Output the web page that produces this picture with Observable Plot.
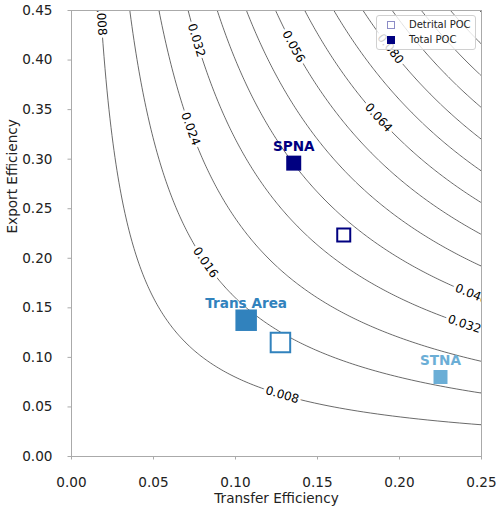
<!DOCTYPE html>
<html>
<head>
<meta charset="utf-8">
<script src="https://cdn.jsdelivr.net/npm/d3@7"></script>
<script src="https://cdn.jsdelivr.net/npm/@observablehq/plot@0.6"></script>
<style>
  html, body { margin: 0; padding: 0; background: #fff; }
  #wrap { position: relative; width: 500px; height: 511px; font-family: "DejaVu Sans", sans-serif; }
  .legend { position: absolute; left: 376px; top: 15px; width: 98px; height: 33px;
            background: rgba(255,255,255,0.8); border: 1px solid #d0d0d0; border-radius: 3px; }
  .legend .sw { position: absolute; left: 10px; width: 8px; height: 8px; box-sizing: border-box; }
  .legend .open { border: 1px solid rgba(0,0,128,0.45); background: #fff; }
  .legend .fill { background: #000080; }
  .legend .lab { position: absolute; left: 32px; font-size: 10px; color: #222; line-height: 12px; white-space: nowrap; }
</style>
</head>
<body>
<div id="wrap"></div>
<script>
// ---- data ----
const regions = ["SPNA", "Trans Area", "STNA"];
const totalTE = [0.1355, 0.1065, 0.225];
const totalEE = [0.296, 0.1375, 0.0802];
const detritalRegions = ["SPNA", "Trans Area"];
const detritalTE = [0.166, 0.1274];
const detritalEE = [0.2235, 0.115];
const contourLevels = [0.008, 0.016, 0.024, 0.032, 0.040, 0.048, 0.056, 0.064, 0.072, 0.080, 0.088, 0.096, 0.104, 0.112];
const labelLevels = [0.008, 0.008, 0.016, 0.024, 0.032, 0.032, 0.040, 0.056, 0.064, 0.080];
const labelTE = [0.0181, 0.1285, 0.0817, 0.0726, 0.0762, 0.2396, 0.244, 0.1354, 0.1872, 0.1945];
const xTicks = [0, 0.05, 0.10, 0.15, 0.20, 0.25];
const yTicks = [0, 0.05, 0.10, 0.15, 0.20, 0.25, 0.30, 0.35, 0.40, 0.45];

// ---- styles ----
const regionColor = {"SPNA": "#000080", "Trans Area": "#3182bd", "STNA": "#6baed6"};
const regionSide = {"SPNA": 15, "Trans Area": 21.5, "STNA": 14};

const W = 500, H = 511, mL = 71, mR = 19, mT = 10, mB = 55;
const xDom = [0, 0.25], yDom = [0, 0.45];
const kx = (W - mL - mR) / (xDom[1] - xDom[0]);
const ky = (H - mT - mB) / (yDom[1] - yDom[0]);
const SQ = Math.sqrt(Math.PI);

const totals = regions.map((r, i) => ({region: r, te: totalTE[i], ee: totalEE[i]}));
const detritals = detritalRegions.map((r, i) => ({region: r, te: detritalTE[i], ee: detritalEE[i]}));
const labels = labelLevels.map((c, i) => {
  const x = labelTE[i];
  const y = c / x;
  const slope = (c / (x * x)) * (ky / kx);
  return {x, y, t: d3.format(".3f")(c), r: Math.atan(slope) * 180 / Math.PI};
});

const plot = Plot.plot({
  width: W, height: H,
  marginLeft: mL, marginRight: mR, marginTop: mT, marginBottom: mB,
  style: {fontFamily: "DejaVu Sans, sans-serif", fontSize: "13.6px", color: "#222", background: "white"},
  x: {domain: xDom},
  y: {domain: yDom},
  r: {type: "identity"},
  color: {type: "identity"},
  marks: [
    Plot.contour({
      value: (x, y) => x * y,
      x1: xDom[0], x2: xDom[1], y1: yDom[0], y2: yDom[1],
      thresholds: contourLevels,
      pixelSize: 1,
      fill: "none", stroke: "#444", strokeWidth: 0.8
    }),
    Plot.text(labels, {
      x: "x", y: "y", text: "t", rotate: "r",
      fontSize: 12, fill: "black", stroke: "white", strokeWidth: 6, clip: true
    }),
    Plot.frame({stroke: "#aaa"}),
    Plot.axisX({
      ticks: xTicks, tickFormat: d3.format(".2f"), tickSize: 3.5, tickPadding: 17.5,
      stroke: "#aaa", fill: "#222", label: null
    }),
    Plot.axisY({
      ticks: yTicks, tickFormat: d3.format(".2f"), tickSize: 3.5, tickPadding: 15.5,
      stroke: "#aaa", fill: "#222", label: null
    }),
    Plot.text(["Transfer Efficiency"], {
      text: d => d, frameAnchor: "bottom", dy: 46.5, fontSize: 13.6, fill: "#222"
    }),
    Plot.text(["Export Efficiency"], {
      text: d => d, frameAnchor: "left", dx: -59, rotate: -90, fontSize: 13.6, fill: "#222"
    }),
    Plot.dot(detritals, {
      x: "te", y: "ee", symbol: "square",
      r: d => (regionSide[d.region] - 2) / SQ,
      fill: "white", stroke: d => regionColor[d.region], strokeWidth: 2
    }),
    Plot.dot(totals, {
      x: "te", y: "ee", symbol: "square",
      r: d => regionSide[d.region] / SQ,
      fill: d => regionColor[d.region], stroke: "none"
    }),
    Plot.text(totals, {
      x: "te", y: "ee", text: "region", dy: -16.5,
      fontSize: 13.6, fontWeight: "bold", fill: d => regionColor[d.region]
    })
  ]
});

const wrap = document.getElementById("wrap");
wrap.appendChild(plot);
const legend = document.createElement("div");
legend.className = "legend";
legend.innerHTML =
  '<span class="sw open" style="top:5px"></span><span class="lab" style="top:3px">Detrital POC</span>' +
  '<span class="sw fill" style="top:20px"></span><span class="lab" style="top:18px">Total POC</span>';
wrap.appendChild(legend);
</script>
</body>
</html>
